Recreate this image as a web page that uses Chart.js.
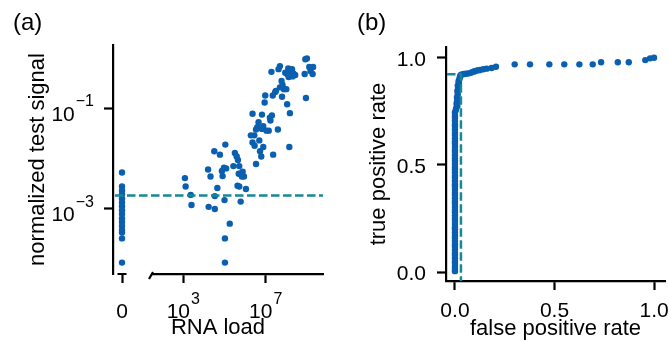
<!DOCTYPE html>
<html>
<head>
<meta charset="utf-8">
<script src="https://cdn.jsdelivr.net/npm/chart.js@4"></script>
<style>
  html, body { margin: 0; padding: 0; background: #fff; }
  #wrap { position: relative; width: 669px; height: 342px; overflow: hidden; }
  #panelA { position: absolute; left: 0; top: 0; }
  #panelB { position: absolute; left: 340px; top: 0; }
</style>
</head>
<body>
<div id="wrap">
  <canvas id="panelA" width="335" height="342"></canvas>
  <canvas id="panelB" width="329" height="342"></canvas>
</div>
<script>
// ---- Panel (a): normalized test signal vs RNA load ----
// samples with zero RNA load (drawn in their own column)
const zeroSignal = [5.3e-3, 2.8e-3, 2.3e-3, 1.95e-3, 1.6e-3, 1.35e-3, 1.13e-3, 9.4e-4, 7.9e-4,
  6.5e-4, 5.5e-4, 4.6e-4, 3.8e-4, 3.4e-4, 2.6e-4, 8.6e-5];

const rnaLoad = [
  1.2e3, 1.3e3, 2.3e3, 2.5e3, 1.6e4, 2.1e4, 3.2e4, 6.0e4, 4.5e4, 3.4e4, 1.7e4, 3.4e4,
  7.5e4, 9.4e4, 1.2e5, 8.1e4, 1.1e5, 1.0e5, 1.8e5, 1.05e5, 1.05e5, 2.7e5, 3.2e5, 3.9e5,
  4.5e5, 5.2e5, 4.9e5, 6.1e5, 7.6e5, 7.0e5, 8.8e5, 4.3e5, 5.2e5, 1.1e6, 6.1e5,
  1.9e6, 2.8e6, 2.3e6, 2.3e6, 2.9e6, 3.4e6, 3.9e6, 4.5e6, 3.4e6, 4.9e6,
  5.3e6, 6.1e6, 7.6e6, 6.6e6, 7.6e6, 6.6e6, 8.9e6, 9.5e6, 1.1e7, 1.4e7,
  1.6e7, 2.0e7, 1.7e7, 2.3e7, 3.9e7, 2.2e7, 2.9e7, 1.9e7,
  3.1e7, 4.9e7, 5.9e7, 6.6e7, 7.7e7, 1.0e8, 6.2e7, 1.1e8, 1.5e8, 1.4e8,
  4.9e7, 4.2e7, 1.1e8, 1.3e8, 1.25e8, 1.5e8, 1.9e8, 2.2e8, 2.7e8, 2.0e8, 8.9e7,
  8.4e8, 1.0e9, 7.8e8, 9.0e8, 1.3e9, 1.5e9, 1.9e9, 2.0e9
];
const signal = [
  4.1e-3, 2.8e-3, 1.9e-3, 1.2e-3, 6.1e-3, 4.4e-3, 1.4e-2, 1.2e-2, 2.6e-3, 1.8e-3, 1.1e-3, 1.0e-3,
  5.7e-3, 6.6e-3, 6.4e-3, 4.5e-3, 1.9e-2, 1.5e-3, 5.1e-4, 2.6e-4, 8.6e-5, 7.1e-3, 1.3e-2, 1.1e-2,
  9.4e-3, 7.1e-3, 5.0e-3, 5.1e-3, 5.5e-3, 4.4e-3, 4.4e-3, 2.9e-3, 2.8e-3, 2.5e-3, 1.4e-3,
  2.9e-2, 2.9e-2, 7.8e-2, 2.1e-2, 1.8e-2, 7.8e-3, 4.2e-2, 5.3e-2, 3.8e-2, 2.3e-2,
  1.4e-2, 1.1e-2, 1.7e-2, 3.9e-2, 4.4e-2, 7.5e-2, 0.13, 0.18, 3.6e-2, 3.6e-2,
  6.5e-2, 7.2e-2, 5.7e-2, 1.2e-2, 3.8e-2, 0.18, 0.21, 0.53,
  0.22, 0.26, 0.35, 0.29, 0.24, 0.24, 0.17, 0.12, 8.0e-2, 1.7e-2,
  0.69, 0.60, 0.48, 0.42, 0.62, 0.51, 0.60, 0.49, 0.46, 0.43, 0.51,
  0.94, 0.98, 0.48, 0.16, 0.66, 0.55, 0.48, 0.66
];
const signalThreshold = 1.85e-3;
const zeroTicks = [0];
const xTicksA = [1e3, 1e7];
const yTicksA = [1e-3, 1e-1];

// ---- Panel (b): ROC curve ----
const tprAtZeroFpr = [0.005, 0.015, 0.025, 0.04, 0.05, 0.065, 0.08, 0.09, 0.105, 0.12, 0.13, 0.145,
  0.16, 0.17, 0.185, 0.2, 0.21, 0.225, 0.24, 0.25, 0.265, 0.28, 0.29, 0.305, 0.32, 0.33, 0.345,
  0.36, 0.37, 0.385, 0.4, 0.41, 0.425, 0.44, 0.45, 0.465, 0.48, 0.49, 0.505, 0.52, 0.53, 0.545,
  0.56, 0.57, 0.585, 0.6, 0.61, 0.625, 0.64, 0.65, 0.665, 0.68, 0.69, 0.705, 0.72, 0.73, 0.745];
const fpr = [0.004, 0.006, 0.012, 0.008, 0.01, 0.012, 0.01, 0.014, 0.012, 0.016, 0.014, 0.02, 0.018,
  0.022, 0.025, 0.028, 0.035, 0.045, 0.055, 0.067, 0.08, 0.092, 0.1, 0.109, 0.118, 0.126, 0.142,
  0.159, 0.184, 0.206, 0.30, 0.377, 0.474, 0.549, 0.625, 0.692, 0.734, 0.818, 0.873, 0.956, 0.98, 1.0];
const tpr = [0.755, 0.765, 0.775, 0.785, 0.795, 0.805, 0.815, 0.83, 0.845, 0.86, 0.87, 0.88, 0.89,
  0.9, 0.91, 0.918, 0.922, 0.924, 0.925, 0.927, 0.93, 0.935, 0.937, 0.94, 0.942, 0.943, 0.946,
  0.949, 0.952, 0.958, 0.969, 0.969, 0.969, 0.969, 0.969, 0.969, 0.979, 0.979, 0.979, 0.989, 0.997, 1.0];
const fprThreshold = 0.03;
const tprThreshold = 0.923;
const ticksB = [0, 0.5, 1];

const DOT = '#0a5fb0';
const DASH = '#15899a';
const FONT = '"Liberation Sans", Arial, Helvetica, sans-serif';

Chart.defaults.font.family = FONT;
Chart.defaults.color = '#000';

const setTicks = values => scale => { scale.ticks = values.map(v => ({ value: v })); };

function axis(extra) {
  return Object.assign({
    border: { color: '#000', width: 2.2 },
    grid: { drawOnChartArea: false, drawTicks: true, tickLength: 9, tickWidth: 2.2, tickColor: '#000', color: '#000' },
    ticks: { display: false }
  }, extra);
}

const dots = { backgroundColor: DOT, borderWidth: 0, pointRadius: 3.2, pointHoverRadius: 3.2 };

// "10" with a raised exponent, as in the reference tick labels
function powerLabel(ctx, value, x, y, align) {
  const sup = String(Math.round(Math.log10(value))).replace('-', '\u2212');
  ctx.font = `21px ${FONT}`;
  const bw = ctx.measureText('10').width;
  ctx.font = `16px ${FONT}`;
  const ew = ctx.measureText(sup).width;
  const w = bw + 1 + ew;
  const left = align === 'right' ? x - w : x - w / 2;
  ctx.textAlign = 'left';
  ctx.textBaseline = 'alphabetic';
  ctx.font = `21px ${FONT}`;
  ctx.fillText('10', left, y);
  ctx.font = `16px ${FONT}`;
  ctx.fillText(sup, left + bw + 1, y - 14.5);
}

function dashed(ctx) {
  ctx.strokeStyle = DASH;
  ctx.lineWidth = 2.5;
  ctx.setLineDash([8.5, 3.5]);
}

const panelAExtras = {
  id: 'panelAExtras',
  afterDatasetsDraw(chart) {
    const { ctx, chartArea, scales: { y } } = chart;
    const py = y.getPixelForValue(signalThreshold);
    ctx.save();
    dashed(ctx);
    ctx.beginPath();
    ctx.moveTo(chartArea.left + 2, py);
    ctx.lineTo(chartArea.right, py);
    ctx.stroke();
    ctx.restore();
  },
  afterDraw(chart) {
    const { ctx, scales: { x0, x, y } } = chart;
    ctx.save();
    ctx.fillStyle = '#000';
    y.ticks.forEach(t => powerLabel(ctx, t.value, y.right - 19, y.getPixelForValue(t.value) + 12.5, 'right'));
    x.ticks.forEach(t => powerLabel(ctx, t.value, x.getPixelForValue(t.value), x.top + 44, 'center'));
    ctx.font = `21px ${FONT}`;
    ctx.textAlign = 'center';
    ctx.textBaseline = 'alphabetic';
    x0.ticks.forEach(t => ctx.fillText(String(t.value), x0.getPixelForValue(t.value), x0.top + 44));
    // short spine under the zero column, and the break mark of the log axis
    ctx.strokeStyle = '#000';
    ctx.lineWidth = 2.2;
    ctx.beginPath();
    ctx.moveTo(x0.getPixelForValue(-0.5), x0.top);
    ctx.lineTo(x0.getPixelForValue(0.5), x0.top);
    ctx.moveTo(x.left - 3, x.top + 5);
    ctx.lineTo(x.left + 1, x.top - 2);
    ctx.stroke();
    ctx.restore();
  }
};

const panelBExtras = {
  id: 'panelBExtras',
  afterDatasetsDraw(chart) {
    const { ctx, chartArea, scales: { x, y } } = chart;
    const px = x.getPixelForValue(fprThreshold);
    const py = y.getPixelForValue(tprThreshold);
    ctx.save();
    dashed(ctx);
    ctx.beginPath();
    ctx.moveTo(chartArea.left + 1, py);
    ctx.lineTo(px, py);
    ctx.lineTo(px, chartArea.bottom);
    ctx.stroke();
    ctx.restore();
  },
  afterDraw(chart) {
    const { ctx, scales: { x, y } } = chart;
    ctx.save();
    ctx.fillStyle = '#000';
    ctx.font = `21px ${FONT}`;
    ctx.textBaseline = 'alphabetic';
    ctx.textAlign = 'center';
    x.ticks.forEach(t => ctx.fillText(t.value.toFixed(1), x.getPixelForValue(t.value), x.top + 36));
    ctx.textAlign = 'right';
    y.ticks.forEach(t => ctx.fillText(t.value.toFixed(1), y.right - 20, y.getPixelForValue(t.value) + 8));
    ctx.restore();
  }
};

new Chart(document.getElementById('panelA'), {
  type: 'scatter',
  data: {
    datasets: [
      Object.assign({ data: zeroSignal.map(v => ({ x: 0, y: v })), xAxisID: 'x0', yAxisID: 'y' }, dots),
      Object.assign({ data: rnaLoad.map((v, i) => ({ x: v, y: signal[i] })), xAxisID: 'x', yAxisID: 'y' }, dots)
    ]
  },
  options: {
    responsive: false,
    animation: false,
    events: [],
    layout: { padding: { left: 13, right: 12, top: 0, bottom: 0.6 } },
    plugins: {
      legend: { display: false },
      tooltip: { enabled: false },
      title: {
        display: true, text: '(a)', align: 'start', color: '#000',
        font: { size: 24, weight: 'normal' }, padding: { top: 9, bottom: 7.2 }
      },
      subtitle: {
        display: true, text: 'RNA load', position: 'bottom', fullSize: false, color: '#000',
        font: { size: 22, weight: 'normal' }, padding: 0
      }
    },
    scales: {
      x0: axis({
        type: 'linear', position: 'bottom', stack: 'rna', stackWeight: 39,
        min: -1, max: 3.33, border: { display: false },
        afterBuildTicks: setTicks(zeroTicks),
        afterFit: s => { s.height = 41; }
      }),
      x: axis({
        type: 'logarithmic', position: 'bottom', stack: 'rna', stackWeight: 171,
        min: 30.3, max: 6.05e9,
        afterBuildTicks: setTicks(xTicksA),
        afterFit: s => { s.height = 41; }
      }),
      y: axis({
        type: 'logarithmic', position: 'left', min: 5.1e-5, max: 1.81,
        title: { display: true, text: 'normalized test signal', color: '#000', font: { size: 22 }, padding: { top: 11.7, bottom: 0 } },
        afterBuildTicks: setTicks(yTicksA),
        afterFit: s => { s.width = 100; }
      })
    }
  },
  plugins: [panelAExtras]
});

new Chart(document.getElementById('panelB'), {
  type: 'scatter',
  data: {
    datasets: [
      Object.assign({ data: tprAtZeroFpr.map(v => ({ x: 0, y: v })) }, dots),
      Object.assign({ data: fpr.map((v, i) => ({ x: v, y: tpr[i] })) }, dots)
    ]
  },
  options: {
    responsive: false,
    animation: false,
    events: [],
    layout: { padding: { left: 17, right: 4, top: 0, bottom: 0 } },
    plugins: {
      legend: { display: false },
      tooltip: { enabled: false },
      title: {
        display: true, text: '(b)', align: 'start', color: '#000',
        font: { size: 24, weight: 'normal' }, padding: { top: 9, bottom: 9.2 }
      }
    },
    scales: {
      x: axis({
        type: 'linear', min: -0.045, max: 1.055,
        title: { display: true, text: 'false positive rate', color: '#000', font: { size: 22 }, padding: { top: 0, bottom: 0 } },
        afterBuildTicks: setTicks(ticksB),
        afterFit: s => { s.height = 61; }
      }),
      y: axis({
        type: 'linear', min: -0.041, max: 1.05,
        title: { display: true, text: 'true positive rate', color: '#000', font: { size: 22 }, padding: { top: 8.7, bottom: 0 } },
        afterBuildTicks: setTicks(ticksB),
        afterFit: s => { s.width = 89; }
      })
    }
  },
  plugins: [panelBExtras]
});
</script>
</body>
</html>
